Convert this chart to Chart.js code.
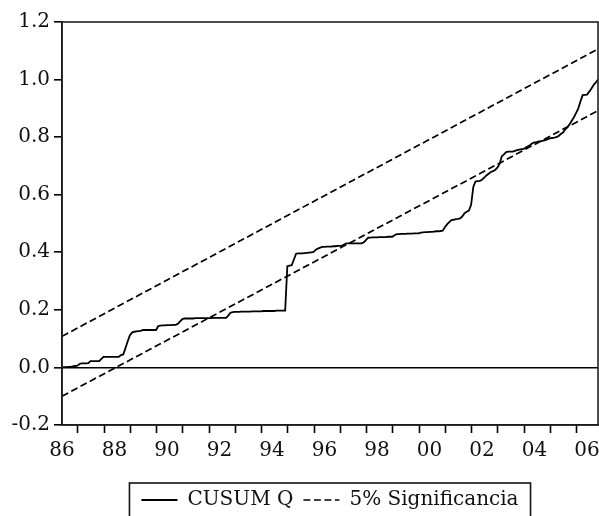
<!DOCTYPE html>
<html>
<head>
    <title>CUSUM Q</title>
    <script src="https://cdn.jsdelivr.net/npm/chart.js"></script>
    <style>
        body { margin: 0; background: #fff; }
        #wrap { width: 599px; height: 516px; }
    </style>
</head>
<body>
    <div id="wrap"><canvas id="myChart"></canvas></div>

    <script>
        // monthly data, first observation 1986M1
        const START_YEAR = 1986;
        const cusumQ = [
            0.000, 0.001, 0.001, 0.002, 0.002, 0.004, 0.005, 0.006, 0.012, 0.014, 0.014, 0.014, // 86
            0.015, 0.022, 0.022, 0.022, 0.022, 0.022, 0.030, 0.037, 0.037, 0.037, 0.037, 0.037, // 87
            0.037, 0.037, 0.037, 0.043, 0.045, 0.067, 0.090, 0.111, 0.121, 0.124, 0.125, 0.126, // 88
            0.127, 0.130, 0.130, 0.130, 0.130, 0.130, 0.130, 0.130, 0.144, 0.145, 0.146, 0.146, // 89
            0.147, 0.147, 0.147, 0.148, 0.148, 0.152, 0.160, 0.168, 0.170, 0.170, 0.170, 0.170, // 90
            0.170, 0.171, 0.171, 0.171, 0.171, 0.171, 0.171, 0.171, 0.171, 0.172, 0.172, 0.172, // 91
            0.172, 0.172, 0.172, 0.172, 0.180, 0.190, 0.192, 0.193, 0.193, 0.193, 0.194, 0.194, // 92
            0.194, 0.194, 0.194, 0.195, 0.195, 0.195, 0.195, 0.195, 0.196, 0.196, 0.196, 0.196, // 93
            0.196, 0.196, 0.197, 0.197, 0.197, 0.197, 0.197, 0.352, 0.354, 0.355, 0.375, 0.395, // 94
            0.396, 0.396, 0.396, 0.397, 0.398, 0.399, 0.400, 0.401, 0.409, 0.413, 0.416, 0.419, // 95
            0.419, 0.420, 0.420, 0.420, 0.421, 0.421, 0.422, 0.422, 0.423, 0.427, 0.431, 0.431, // 96
            0.431, 0.431, 0.431, 0.431, 0.431, 0.431, 0.435, 0.443, 0.451, 0.451, 0.452, 0.452, // 97
            0.452, 0.453, 0.453, 0.453, 0.453, 0.454, 0.454, 0.454, 0.459, 0.463, 0.463, 0.464, // 98
            0.464, 0.464, 0.465, 0.465, 0.465, 0.466, 0.466, 0.466, 0.468, 0.469, 0.470, 0.470, // 99
            0.471, 0.471, 0.472, 0.473, 0.473, 0.474, 0.475, 0.487, 0.497, 0.505, 0.512, 0.513, // 00
            0.515, 0.516, 0.518, 0.525, 0.536, 0.541, 0.545, 0.565, 0.627, 0.646, 0.647, 0.648, // 01
            0.652, 0.659, 0.667, 0.673, 0.679, 0.682, 0.686, 0.694, 0.707, 0.733, 0.740, 0.748, // 02
            0.750, 0.750, 0.750, 0.752, 0.755, 0.757, 0.758, 0.759, 0.764, 0.768, 0.773, 0.779, // 03
            0.782, 0.783, 0.785, 0.786, 0.788, 0.790, 0.793, 0.796, 0.797, 0.798, 0.800, 0.804, // 04
            0.811, 0.816, 0.827, 0.834, 0.845, 0.857, 0.869, 0.884, 0.900, 0.925, 0.946, 0.947, // 05
            0.948, 0.958, 0.969, 0.981, 0.990, 1.000                                             // 06
        ];

        // 5% bands: straight lines, value at first and last observation
        const bandTime = [1986, 1986 + (cusumQ.length - 1) / 12];
        const upperBand = [0.108, 1.106];
        const lowerBand = [-0.100, 0.892];

        const labelYears = [1986, 1988, 1990, 1992, 1994, 1996, 1998, 2000, 2002, 2004, 2006];
        const tickYears = [1986, 1987, 1988, 1989, 1990, 1991, 1992, 1993, 1994, 1995,
                           1996, 1997, 1998, 1999, 2000, 2001, 2002, 2003, 2004, 2005];
        const yTicks = [-0.2, 0.0, 0.2, 0.4, 0.6, 0.8, 1.0, 1.2];

        const INK = '#111';
        Chart.defaults.font.family = "'DejaVu Serif', serif";
        Chart.defaults.font.size = 20;
        Chart.defaults.color = INK;

        const cusumPts = cusumQ.map((v, i) => ({ x: START_YEAR + i / 12, y: v }));
        const upperPts = bandTime.map((t, i) => ({ x: t, y: upperBand[i] }));
        const lowerPts = bandTime.map((t, i) => ({ x: t, y: lowerBand[i] }));

        // box round the plot area
        const frame = {
            id: 'frame',
            afterDatasetsDraw(chart) {
                const a = chart.chartArea, ctx = chart.ctx;
                ctx.save();
                ctx.strokeStyle = '#222';
                ctx.lineWidth = 1.6;
                ctx.strokeRect(a.left, a.top, a.right - a.left, a.bottom - a.top);
                ctx.restore();
            }
        };

        // border round the legend
        const legendBox = {
            id: 'legendBox',
            afterDraw(chart) {
                const hb = chart.legend.legendHitBoxes;
                if (!hb || !hb.length) return;
                const last = hb[hb.length - 1];
                const l = hb[0].left - 12, r = last.left + last.width + 12, t = hb[0].top - 7;
                const ctx = chart.ctx;
                ctx.save();
                ctx.strokeStyle = INK;
                ctx.lineWidth = 1.6;
                ctx.strokeRect(l, t, r - l, chart.height - t + 10);
                ctx.restore();
            }
        };

        const ctx = document.getElementById('myChart').getContext('2d');
        new Chart(ctx, {
            type: 'line',
            data: {
                datasets: [
                    {
                        label: 'CUSUM Q',
                        data: cusumPts,
                        borderColor: '#000',
                        borderWidth: 1.8,
                        pointRadius: 0,
                        tension: 0
                    },
                    {
                        label: '5% Significancia',
                        data: upperPts,
                        borderColor: '#000',
                        borderWidth: 1.7,
                        borderDash: [7, 3.5],
                        pointRadius: 0
                    },
                    {
                        label: '5% Significancia',
                        data: lowerPts,
                        borderColor: '#000',
                        borderWidth: 1.7,
                        borderDash: [7, 3.5],
                        pointRadius: 0
                    }
                ]
            },
            options: {
                responsive: true,
                maintainAspectRatio: false,
                animation: false,
                layout: { padding: { top: 22, left: 0, right: 1, bottom: -4 } },
                plugins: {
                    tooltip: { enabled: false },
                    legend: {
                        position: 'bottom',
                        fullSize: false,
                        labels: {
                            usePointStyle: true,
                            pointStyle: 'line',
                            pointStyleWidth: 36,
                            padding: 10,
                            color: INK,
                            generateLabels(chart) {
                                const items = Chart.defaults.plugins.legend.labels.generateLabels(chart);
                                return items.filter(it => it.datasetIndex < 2).map(it => {
                                    const ds = chart.data.datasets[it.datasetIndex];
                                    return Object.assign(it, {
                                        lineDash: ds.borderDash || [],
                                        lineWidth: ds.borderWidth,
                                        strokeStyle: ds.borderColor
                                    });
                                });
                            }
                        }
                    }
                },
                scales: {
                    xt: {
                        type: 'linear',
                        position: 'bottom',
                        weight: 1,
                        min: bandTime[0],
                        max: bandTime[1],
                        afterBuildTicks: axis => { axis.ticks = tickYears.map(y => ({ value: y + 0.6 })); },
                        afterFit: axis => { axis.paddingLeft = 0; axis.paddingRight = 0; },
                        grid: {
                            drawOnChartArea: false,
                            drawTicks: true,
                            tickLength: 8,
                            tickColor: '#000',
                            tickWidth: 1.6
                        },
                        border: { display: true, color: '#000', width: 1.6 },
                        ticks: { display: false }
                    },
                    x: {
                        type: 'linear',
                        position: 'bottom',
                        weight: 2,
                        min: bandTime[0],
                        max: bandTime[1],
                        afterBuildTicks: axis => { axis.ticks = labelYears.map(y => ({ value: y })); },
                        afterFit: axis => {
                            axis.height = 47;
                            axis.paddingLeft = 0;
                            axis.paddingRight = 0;
                        },
                        grid: { display: false, drawTicks: false },
                        border: { display: false },
                        ticks: {
                            padding: 6,
                            autoSkip: false,
                            maxRotation: 0,
                            callback: v => String(Math.round(v) % 100).padStart(2, '0')
                        }
                    },
                    y: {
                        min: -0.2,
                        max: 1.2,
                        afterBuildTicks: axis => { axis.ticks = yTicks.map(v => ({ value: v })); },
                        afterFit: axis => { axis.width = 62; axis.paddingTop = 0; axis.paddingBottom = 0; },
                        grid: {
                            drawOnChartArea: true,
                            color: c => (c.tick && Math.abs(c.tick.value) < 1e-9) ? '#000' : 'rgba(0,0,0,0)',
                            lineWidth: 1.6,
                            tickLength: 8,
                            tickColor: '#000',
                            tickWidth: 1.6
                        },
                        border: { display: true, color: '#000', width: 1.6 },
                        ticks: {
                            padding: 4,
                            callback: v => v.toFixed(1)
                        }
                    }
                }
            },
            plugins: [frame, legendBox]
        });
    </script>
</body>
</html>
